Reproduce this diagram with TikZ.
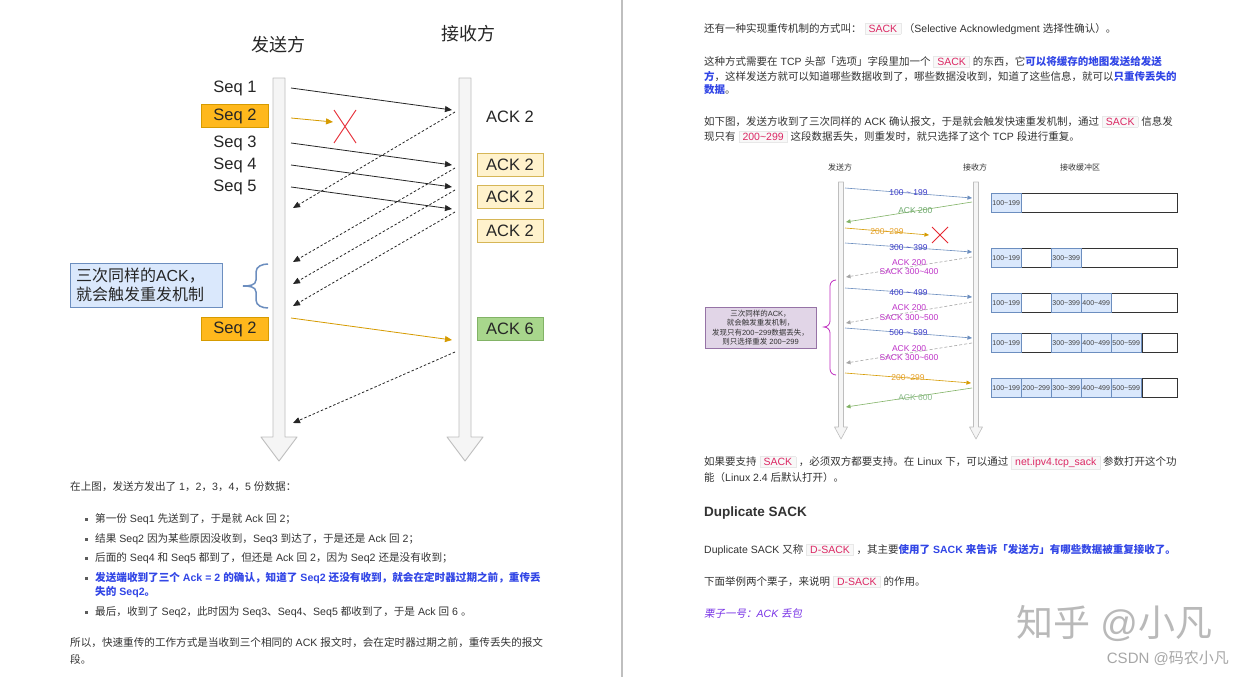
\documentclass[tikz,border=0pt]{standalone}
\usepackage{fontspec}
\setmainfont{Liberation Sans}
\newfontfamily\cjkfont{Noto Sans CJK SC}
\newfontfamily\cjkslant[FakeSlant=0.2]{Noto Sans CJK SC}
\usepackage{xcolor}
\usetikzlibrary{arrows.meta,positioning}

% Chinese characters and full-width punctuation switch to the CJK family
\XeTeXinterchartokenstate=1
\newXeTeXintercharclass\cjkcls
\newcount\cjkcnt
\cjkcnt="3000 \loop\XeTeXcharclass\cjkcnt=\cjkcls \ifnum\cjkcnt<"303F \advance\cjkcnt by 1 \repeat
\cjkcnt="4E00 \loop\XeTeXcharclass\cjkcnt=\cjkcls \ifnum\cjkcnt<"9FFF \advance\cjkcnt by 1 \repeat
\cjkcnt="FF00 \loop\XeTeXcharclass\cjkcnt=\cjkcls \ifnum\cjkcnt<"FFEF \advance\cjkcnt by 1 \repeat
\XeTeXinterchartoks 0 \cjkcls = {\begingroup\cjkfont}
\XeTeXinterchartoks 4095 \cjkcls = {\begingroup\cjkfont}
\XeTeXinterchartoks \cjkcls 0 = {\endgroup}
\XeTeXinterchartoks \cjkcls 4095 = {\endgroup}

\definecolor{textgray}{RGB}{51,51,51}
\definecolor{lifegray}{RGB}{190,190,190}
\definecolor{lifefill}{RGB}{245,245,245}
\definecolor{seqorange}{RGB}{255,184,28}
\definecolor{seqorangeline}{RGB}{214,155,0}
\definecolor{ackyellow}{RGB}{255,242,204}
\definecolor{ackyellowline}{RGB}{214,182,86}
\definecolor{ackgreen}{RGB}{168,214,140}
\definecolor{ackgreenline}{RGB}{130,179,102}
\definecolor{noteblue}{RGB}{218,232,252}
\definecolor{noteblueline}{RGB}{108,142,191}
\definecolor{notepurple}{RGB}{225,213,231}
\definecolor{notepurpleline}{RGB}{150,115,166}
\definecolor{bracepurple}{RGB}{190,40,190}
\definecolor{lblblue}{RGB}{60,60,200}
\definecolor{lblmagenta}{RGB}{190,50,200}
\definecolor{lblgreen}{RGB}{110,170,110}
\definecolor{lblorange}{RGB}{230,160,40}
\definecolor{crossred}{RGB}{230,40,50}
\definecolor{linkblue}{RGB}{50,70,230}
\definecolor{codered}{RGB}{220,40,100}
\definecolor{codeline}{RGB}{232,232,232}
\definecolor{codebg}{RGB}{248,248,248}
\definecolor{italpurple}{RGB}{120,50,230}
\definecolor{wmgray}{RGB}{185,185,185}

\newcommand{\wave}{\textasciitilde}
\newcommand{\codebox}[1]{{\setlength{\fboxsep}{1.5pt}\fcolorbox{codeline}{codebg}{\hspace{2pt}\textcolor{codered}{#1}\hspace{2pt}}}}
\newcommand{\hilite}[1]{\textbf{\textcolor{linkblue}{#1}}}

\begin{document}
\begin{tikzpicture}[x=1pt,y=-1pt,
    txt/.style={anchor=west,inner sep=0pt,text=textgray},
    ltxt/.style={txt,font=\fontsize{10.6}{13}\selectfont},
    rtxt/.style={txt,font=\fontsize{10.5}{13}\selectfont},
    lifeline/.style={draw=lifegray,fill=lifefill,line width=0.9pt,line join=round},
    biglbl/.style={font=\fontsize{16.5}{19}\selectfont,text=black!85,inner sep=0pt},
    seqbox/.style={biglbl,draw=seqorangeline,fill=seqorange,minimum width=67,minimum height=23},
    ackbox/.style={biglbl,draw=ackyellowline,fill=ackyellow,minimum width=66,minimum height=23},
    okbox/.style={biglbl,draw=ackgreenline,fill=ackgreen,minimum width=66,minimum height=23},
    msgL/.style={-{Triangle[length=7pt,width=6pt]},line width=0.8pt,draw=black!85},
    ackL/.style={msgL,dash pattern=on 2.5pt off 2pt},
    lostL/.style={msgL,draw=seqorangeline},
    smalllbl/.style={font=\fontsize{8}{9.5}\selectfont,text=textgray,inner sep=0pt},
    msgR/.style={-{Triangle[length=4.5pt,width=4pt]},line width=0.6pt},
    msglbl/.style={font=\fontsize{8.5}{9.5}\selectfont,inner sep=0.5pt,align=center},
    segcell/.style={draw=noteblueline,fill=noteblue,anchor=north west,minimum width=30,
      minimum height=19,inner sep=0pt,font=\fontsize{7}{8}\selectfont,text=black!75},
    emptycell/.style={draw=black!80,fill=white,line width=0.9pt},
    bullet/.style={fill=textgray!80,minimum size=3pt,inner sep=0pt}]

  \fill[white] (0,0) rectangle (1242,677);
  \useasboundingbox (0,0) rectangle (1242,677);
  \draw[black!25,line width=1.2pt] (622,0) -- (622,677);

  % ---------- left page: fast retransmit ----------
  \node[font=\fontsize{18}{20}\selectfont,text=black!85] (lsend) at (278,45) {发送方};
  \node[font=\fontsize{18}{20}\selectfont,text=black!85] (lrecv) at (468,34) {接收方};
  \foreach \lx in {279,465}
    \draw[lifeline] (\lx-6,78) -- (\lx+6,78) -- (\lx+6,437) -- (\lx+18,437)
      -- (\lx,461) -- (\lx-18,437) -- (\lx-6,437) -- cycle;

  \node[biglbl] (seq1) at (235,88) {Seq 1};
  \node[seqbox] (seq2) at (235,116) {Seq 2};
  \node[biglbl] (seq3) at (235,143) {Seq 3};
  \node[biglbl] (seq4) at (235,165) {Seq 4};
  \node[biglbl] (seq5) at (235,187) {Seq 5};
  \node[seqbox] (seq2b) at (235,329) {Seq 2};

  \node[biglbl] (ack1) at (510,117) {ACK 2};
  \node[ackbox] (ack3) at (510,165) {ACK 2};
  \node[ackbox] (ack4) at (510,197) {ACK 2};
  \node[ackbox] (ack5) at (510,231) {ACK 2};
  \node[okbox] (ack6) at (510,329) {ACK 6};

  \foreach \n/\ya/\yb in {1/88/110, 3/143/165, 4/165/187, 5/187/209} {
    \coordinate (s\n) at (291,\ya);
    \coordinate (r\n) at (452,\yb);
    \draw[msgL] (s\n) -- (r\n);
  }
  \coordinate (s2) at (291,118);
  \coordinate (x2) at (333,122);
  \draw[lostL] (s2) -- (x2);
  \draw[crossred,line width=0.9pt] (334,110) -- (356,143) (356,110) -- (334,143);
  \coordinate (s6) at (291,318);
  \coordinate (r6) at (452,340);
  \draw[lostL] (s6) -- (r6);

  \foreach \n/\ya/\yb in {1/112/208, 2/168/262, 3/190/284, 4/212/306, 5/352/423} {
    \coordinate (ra\n) at (455,\ya);
    \coordinate (sa\n) at (293,\yb);
    \draw[ackL] (ra\n) -- (sa\n);
  }

  \node[biglbl,font=\fontsize{16}{19}\selectfont,draw=noteblueline,fill=noteblue,
    minimum width=152,minimum height=44,align=left,text width=140] (lnote) at (146,285)
    {三次同样的ACK，\\就会触发重发机制};
  \draw[noteblueline,line width=1.5pt] (268,264) to[out=180,in=90] (256,272) -- (256,280)
    to[out=-90,in=0] (243,286) to[out=0,in=90] (256,292) -- (256,300)
    to[out=-90,in=180] (268,308);

  \node[ltxt] (lp1) at (70,487) {在上图，发送方发出了 1，2，3，4，5 份数据：};
  \foreach \yb in {519,539,558,578,612}
    \node[bullet] (dot\yb) at (86,\yb) {};
  \node[ltxt] (lb1) at (95,519) {第一份 Seq1 先送到了，于是就 Ack 回 2；};
  \node[ltxt] (lb2) at (95,539) {结果 Seq2 因为某些原因没收到，Seq3 到达了，于是还是 Ack 回 2；};
  \node[ltxt] (lb3) at (95,558) {后面的 Seq4 和 Seq5 都到了，但还是 Ack 回 2，因为 Seq2 还是没有收到；};
  \node[ltxt] (lb4) at (95,578) {\hilite{发送端收到了三个 Ack = 2 的确认，知道了 Seq2 还没有收到，就会在定时器过期之前，重传丢}};
  \node[ltxt] (lb4b) at (95,592) {\hilite{失的 Seq2。}};
  \node[ltxt] (lb5) at (95,612) {最后，收到了 Seq2，此时因为 Seq3、Seq4、Seq5 都收到了，于是 Ack 回 6 。};
  \node[ltxt] (lp2) at (70,643) {所以，快速重传的工作方式是当收到三个相同的 ACK 报文时，会在定时器过期之前，重传丢失的报文};
  \node[ltxt] (lp2b) at (70,659) {段。};

  % ---------- right page: SACK ----------
  \node[rtxt] (rp1) at (704,29) {还有一种实现重传机制的方式叫： \codebox{SACK} （Selective Acknowledgment 选择性确认）。};
  \node[rtxt] (rp2) at (704,62) {这种方式需要在 TCP 头部「选项」字段里加一个 \codebox{SACK} 的东西，它\hilite{可以将缓存的地图发送给发送}};
  \node[rtxt] (rp2b) at (704,76) {\hilite{方}，这样发送方就可以知道哪些数据收到了，哪些数据没收到，知道了这些信息，就可以\hilite{只重传丢失的}};
  \node[rtxt] (rp2c) at (704,90) {\hilite{数据}。};
  \node[rtxt] (rp3) at (704,122) {如下图，发送方收到了三次同样的 ACK 确认报文，于是就会触发快速重发机制，通过 \codebox{SACK} 信息发};
  \node[rtxt] (rp3b) at (704,137) {现只有 \codebox{200\wave299} 这段数据丢失，则重发时，就只选择了这个 TCP 段进行重复。};

  \node[smalllbl] (rsend) at (840,167) {发送方};
  \node[smalllbl] (rrecv) at (975,167) {接收方};
  \node[smalllbl] (rbuf) at (1080,167) {接收缓冲区};
  \foreach \lx in {841,976}
    \draw[lifeline,line width=0.6pt] (\lx-2.5,182) -- (\lx+2.5,182) -- (\lx+2.5,427)
      -- (\lx+6.5,427) -- (\lx,439) -- (\lx-6.5,427) -- (\lx-2.5,427) -- cycle;

  % data segments
  \foreach \n/\ya/\yb/\seg in {1/188/198/100 \wave{} 199, 4/243/252/300 \wave{} 399,
      6/288/297/400 \wave{} 499, 8/328/338/500 \wave{} 599} {
    \coordinate (rs\n) at (845,\ya);
    \coordinate (rr\n) at (972,\yb);
    \draw[msgR,draw=noteblueline] (rs\n) -- (rr\n)
      node[msglbl,text=lblblue,midway] (rl\n) {\seg};
  }
  \coordinate (rs3) at (845,228);
  \coordinate (rx3) at (929,235);
  \draw[msgR,draw=seqorangeline] (rs3) -- (rx3) node[msglbl,text=lblorange,midway] (rl3) {200\wave299};
  \draw[crossred,line width=0.8pt] (932,227) -- (948,243) (948,227) -- (932,243);
  \coordinate (rs10) at (845,373);
  \coordinate (rr10) at (971,383);
  \draw[msgR,draw=seqorangeline] (rs10) -- (rr10) node[msglbl,text=lblorange,midway] (rl10) {200\wave299};

  % acknowledgements
  \coordinate (ra2) at (972,202);
  \coordinate (sr2) at (846,222);
  \draw[msgR,draw=ackgreenline] (ra2) -- (sr2) node[msglbl,text=lblgreen,pos=0.45,above=-3pt] (rl2) {ACK 200};
  \coordinate (ra11) at (972,388);
  \coordinate (sr11) at (846,407);
  \draw[msgR,draw=ackgreenline] (ra11) -- (sr11) node[msglbl,text=lblgreen!80,pos=0.45,below=-3pt] (rl11) {ACK 600};
  \foreach \n/\ya/\yb/\hi in {5/257/277/400, 7/302/323/500, 9/343/363/600} {
    \coordinate (ra\n) at (972,\ya);
    \coordinate (sr\n) at (846,\yb);
    \draw[msgR,draw=gray!70,dash pattern=on 3pt off 2pt] (ra\n) -- (sr\n)
      node[msglbl,text=lblmagenta,midway] (rl\n) {ACK 200\\SACK 300\wave\hi};
  }

  \node[draw=notepurpleline,fill=notepurple,minimum width=111,minimum height=41,inner sep=0pt,
    align=center,font=\fontsize{7.5}{9.5}\selectfont,text=textgray] (rnote) at (760.5,327.5)
    {三次同样的ACK，\\就会触发重发机制，\\发现只有200\wave299数据丢失，\\则只选择重发 200\wave299};
  \draw[bracepurple,line width=0.8pt] (836,280) to[out=180,in=90] (830,286) -- (830,321)
    to[out=-90,in=0] (824,327) to[out=0,in=90] (830,333) -- (830,369)
    to[out=-90,in=180] (836,375);

  % receive buffer
  \foreach \ya/\xa/\xb in {193/1021/1177, 248/1021/1051, 248/1081/1177, 293/1021/1051,
      293/1111/1177, 333/1021/1051, 333/1142/1177, 378/1142/1177}
    \draw[emptycell] (\xa,\ya) rectangle (\xb,\ya+19);
  \foreach \ya/\xa/\seg [evaluate=\seg as \segend using int(\seg+99)] in {193/991/100,
      248/991/100, 248/1051/300, 293/991/100, 293/1051/300, 293/1081/400,
      333/991/100, 333/1051/300, 333/1081/400, 333/1111/500,
      378/991/100, 378/1021/200, 378/1051/300, 378/1081/400, 378/1111/500}
    \node[segcell] (seg\ya\seg) at (\xa,\ya) {\seg\wave\segend};

  \node[rtxt] (rp4) at (704,463) {如果要支持 \codebox{SACK} ，必须双方都要支持。在 Linux 下，可以通过 \codebox{net.ipv4.tcp\_sack} 参数打开这个功};
  \node[rtxt] (rp4b) at (704,478) {能（Linux 2.4 后默认打开）。};
  \node[txt,font=\fontsize{13.5}{16}\selectfont\bfseries] (rhead) at (704,513) {Duplicate SACK};
  \node[rtxt] (rp5) at (704,550) {Duplicate SACK 又称 \codebox{D-SACK} ，其主要\hilite{使用了 SACK 来告诉「发送方」有哪些数据被重复接收了。}};
  \node[rtxt] (rp6) at (704,582) {下面举例两个栗子，来说明 \codebox{D-SACK} 的作用。};
  \node[txt,font=\fontsize{10.5}{13}\selectfont\itshape\let\cjkfont\cjkslant,text=italpurple] (rp7) at (704,613) {栗子一号：ACK 丢包};

  \node[anchor=west,inner sep=0pt,font=\fontsize{37}{40}\selectfont,text=wmgray] (wm) at (1016,623) {知乎 @小凡};
  \node[anchor=east,inner sep=0pt,font=\fontsize{15}{17}\selectfont,text=wmgray!90!black] (csdn) at (1229,658) {CSDN @码农小凡};
\end{tikzpicture}
\end{document}
